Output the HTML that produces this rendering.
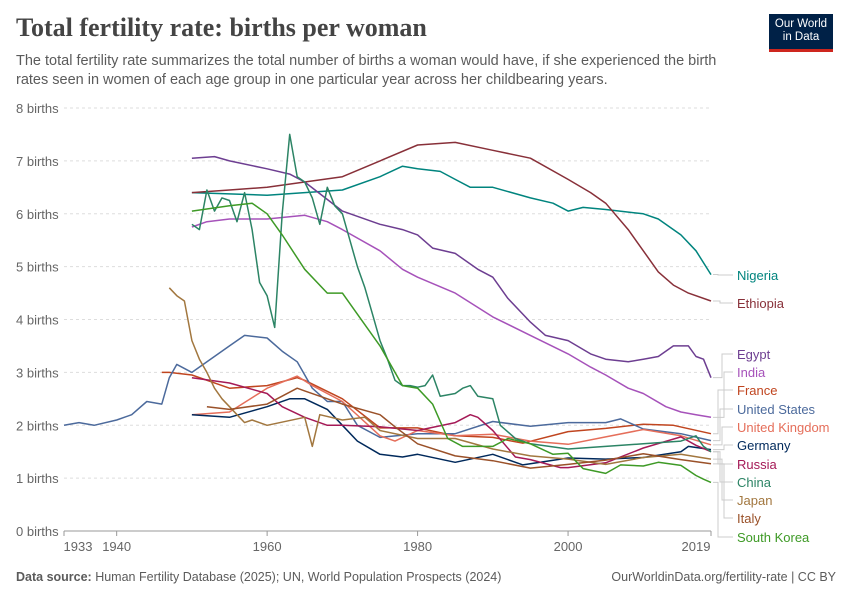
<!DOCTYPE html>
<html><head><meta charset="utf-8"><style>
body{margin:0;background:#fff;font-family:"Liberation Sans",sans-serif}
#wrap{position:relative;width:850px;height:600px;overflow:hidden}
.t{position:absolute}
</style></head><body>
<div id="wrap">
<div class="t" style="left:16px;top:13px;font-family:'Liberation Serif',serif;font-size:26px;font-weight:bold;color:#444">Total fertility rate: births per woman</div>
<div class="t" style="left:16px;top:52px;width:730px;font-size:14.5px;line-height:19px;color:#5b5b5b">The total fertility rate summarizes the total number of births a woman would have, if she experienced the birth rates seen in women of each age group in one particular year across her childbearing years.</div>
<div class="t" style="left:769px;top:14px;width:64px;height:38px;background:#002147;border-bottom:3px solid #ce261e;color:#fff;font-size:11.5px;line-height:13px;text-align:center;padding-top:4px;box-sizing:border-box">Our World<br>in Data</div>
<div class="t" style="left:16px;top:570px;font-size:12.5px;color:#5b5b5b"><b>Data source:</b> Human Fertility Database (2025); UN, World Population Prospects (2024)</div>
<div class="t" style="right:14px;top:570px;font-size:12.5px;color:#5b5b5b">OurWorldinData.org/fertility-rate | CC BY</div>
<svg id="chart" width="850" height="600" style="position:absolute;left:0;top:0"></svg>
</div>
<script>
const yTicks=[0,1,2,3,4,5,6,7,8];
const xTicks=[1933,1940,1960,1980,2000,2019];
const names=["Nigeria","Ethiopia","Egypt","India","France","United States","United Kingdom","Germany","Russia","China","Japan","Italy","South Korea"];
const colors=["#00847e","#883039","#6d3e91","#a652ba","#c0451f","#4c6a9c","#e56e5a","#00295b","#a51a57","#2c8465","#a2773f","#9a5129","#3e9a26"];
const labelY=[275,303,354,372,390,409,427,445,464,482,500,518,537];
const years=[
[1950,1960,1965,1970,1975,1978,1980,1983,1985,1987,1990,1995,1998,2000,2002,2005,2010,2012,2015,2017,2019],
[1950,1955,1960,1965,1970,1975,1980,1985,1990,1995,2000,2003,2005,2008,2010,2012,2014,2016,2019],
[1950,1953,1955,1960,1963,1965,1970,1975,1978,1980,1982,1985,1988,1990,1992,1995,1997,2000,2003,2005,2008,2010,2012,2014,2016,2017,2018,2019],
[1950,1952,1955,1960,1965,1968,1970,1975,1978,1980,1985,1990,1995,2000,2003,2005,2008,2010,2013,2015,2017,2019],
[1946,1947,1950,1955,1960,1964,1965,1970,1975,1980,1985,1990,1994,2000,2005,2010,2014,2019],
[1933,1935,1937,1940,1942,1944,1946,1947,1948,1950,1955,1957,1960,1962,1964,1966,1968,1970,1972,1975,1980,1985,1990,1995,2000,2005,2007,2010,2015,2019],
[1950,1955,1960,1964,1966,1970,1975,1977,1980,1985,1990,1995,2000,2005,2010,2015,2019],
[1950,1955,1960,1963,1965,1968,1970,1972,1975,1978,1980,1985,1990,1994,2000,2005,2010,2015,2016,2019],
[1950,1955,1960,1962,1965,1968,1970,1975,1980,1985,1987,1988,1990,1993,1995,1999,2000,2005,2010,2015,2017,2019],
[1950,1951,1952,1953,1954,1955,1956,1957,1958,1959,1960,1961,1962,1963,1964,1965,1966,1967,1968,1969,1970,1971,1972,1973,1974,1975,1976,1977,1978,1979,1980,1981,1982,1983,1985,1986,1987,1988,1990,1991,1993,1995,2000,2005,2010,2015,2017,2018,2019],
[1947,1948,1949,1950,1951,1952,1953,1954,1955,1956,1957,1958,1960,1965,1966,1967,1970,1973,1975,1980,1985,1990,1995,2000,2005,2010,2015,2019],
[1952,1955,1960,1964,1965,1970,1975,1977,1980,1985,1990,1995,2000,2005,2010,2015,2019],
[1950,1955,1958,1960,1962,1965,1968,1970,1972,1975,1977,1978,1980,1982,1984,1986,1990,1992,1995,1998,2000,2002,2005,2007,2010,2012,2015,2017,2018,2019]
];
const values=[
[6.4,6.35,6.4,6.45,6.7,6.9,6.85,6.8,6.65,6.5,6.5,6.3,6.2,6.05,6.12,6.08,6.0,5.9,5.6,5.3,4.85],
[6.4,6.45,6.5,6.6,6.7,7.0,7.3,7.35,7.2,7.05,6.65,6.4,6.2,5.7,5.3,4.9,4.65,4.5,4.35],
[7.05,7.08,7.0,6.85,6.75,6.6,6.05,5.8,5.7,5.6,5.35,5.25,4.95,4.8,4.4,3.95,3.7,3.6,3.35,3.25,3.2,3.25,3.3,3.5,3.5,3.3,3.25,2.9],
[5.75,5.85,5.9,5.9,5.97,5.85,5.7,5.3,4.95,4.8,4.5,4.05,3.7,3.35,3.1,2.95,2.7,2.6,2.35,2.25,2.2,2.15],
[3.0,3.0,2.95,2.7,2.75,2.9,2.85,2.5,1.95,1.95,1.8,1.77,1.66,1.88,1.94,2.02,2.0,1.84],
[2.0,2.05,2.0,2.1,2.2,2.45,2.4,2.9,3.15,3.0,3.5,3.7,3.65,3.4,3.2,2.7,2.45,2.45,2.0,1.77,1.84,1.84,2.07,1.98,2.05,2.05,2.12,1.93,1.84,1.71],
[2.2,2.25,2.7,2.93,2.75,2.45,1.8,1.7,1.9,1.8,1.83,1.7,1.64,1.78,1.92,1.8,1.63],
[2.2,2.15,2.35,2.5,2.5,2.3,2.0,1.7,1.45,1.4,1.45,1.3,1.45,1.25,1.38,1.36,1.39,1.5,1.6,1.54],
[2.9,2.8,2.6,2.35,2.15,2.0,2.0,1.97,1.9,2.05,2.2,2.15,1.9,1.4,1.35,1.2,1.2,1.29,1.57,1.78,1.62,1.5],
[5.8,5.7,6.45,6.05,6.3,6.25,5.85,6.4,5.7,4.7,4.45,3.85,6.0,7.5,6.7,6.6,6.3,5.8,6.5,6.15,6.0,5.5,5.0,4.6,4.1,3.6,3.25,2.85,2.75,2.75,2.72,2.75,2.95,2.55,2.6,2.7,2.75,2.55,2.5,2.0,1.75,1.65,1.55,1.6,1.65,1.7,1.8,1.6,1.5],
[4.6,4.45,4.35,3.6,3.25,3.0,2.7,2.5,2.35,2.2,2.05,2.1,2.0,2.15,1.6,2.2,2.1,2.15,1.9,1.75,1.75,1.55,1.42,1.36,1.26,1.39,1.45,1.36],
[2.35,2.3,2.4,2.7,2.65,2.4,2.2,1.97,1.65,1.42,1.33,1.19,1.26,1.34,1.46,1.35,1.27],
[6.05,6.15,6.2,6.0,5.6,4.95,4.5,4.5,4.1,3.5,3.0,2.75,2.7,2.4,1.75,1.6,1.6,1.75,1.65,1.45,1.47,1.18,1.09,1.25,1.23,1.3,1.24,1.05,0.98,0.92]
];
const svg=document.getElementById('chart');
const NS='http://www.w3.org/2000/svg';
const X0=64,X1=711,Y0=531,Y8=108;
function x(v){return X0+(v-1933)/(2019-1933)*(X1-X0);}
function y(v){return Y0-(v/8)*(Y0-Y8);}
function mk(t,a){const e=document.createElementNS(NS,t);for(const k in a)e.setAttribute(k,a[k]);svg.appendChild(e);return e;}
yTicks.forEach(v=>{
  const l=mk('line',{x1:64,x2:711,y1:y(v),y2:y(v),stroke:v===0?'#999':'#ddd','stroke-dasharray':v===0?'':'3,3'});
  
  
  const t=mk('text',{x:16,y:y(v)+5,'font-size':13,fill:'#666','font-family':'Liberation Sans,sans-serif'});
  t.textContent=v+' births';
  
  
});
xTicks.forEach(v=>{
  mk('line',{x1:x(v),x2:x(v),y1:531,y2:536,stroke:'#999'});
  const t=mk('text',{x:v===1933?x(v)+14:(v===2019?x(v)-15:x(v)),y:551,'font-size':13,fill:'#666','text-anchor':'middle','font-family':'Liberation Sans,sans-serif'});
  t.textContent=v;
  
  
});
names.forEach((n,i)=>{
  const pts=years[i].map((yr,j)=>x(yr).toFixed(1)+','+y(values[i][j]).toFixed(1)).join(' ');
  const p=mk('polyline',{points:pts,fill:'none',stroke:colors[i],'stroke-width':1.5,'stroke-linejoin':'round'});
  
  
  const ye=y(values[i][values[i].length-1]);
  const ly=labelY[i];
  const c=mk('polyline',{points:`713,${ye} ${718+(i%4)*2},${ye} ${718+(i%4)*2},${ly} 733,${ly}`,fill:'none',stroke:'#ccc','stroke-width':1});
  
  
  const t=mk('text',{x:737,y:ly+5,'font-size':13,fill:colors[i],'font-family':'Liberation Sans,sans-serif'});
  t.textContent=n;
  
  
});
</script>
</body></html>
